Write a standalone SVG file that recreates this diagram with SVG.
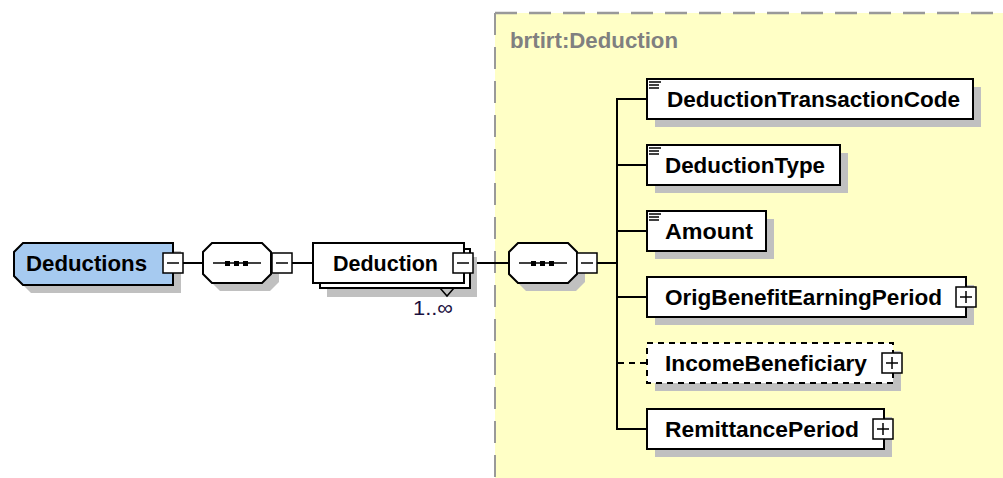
<svg xmlns="http://www.w3.org/2000/svg" width="1003" height="478" viewBox="0 0 1003 478">
<style>
.sh{fill:#C0C0C0}
.box{fill:#fff;stroke:#000;stroke-width:2}
.btn{fill:#fff;stroke:#000;stroke-width:1.5}
.sym{stroke:#000;stroke-width:1.5;fill:none}
.ln{stroke:#000;stroke-width:2;fill:none}
.t{font-family:"Liberation Sans",Arial,sans-serif;font-weight:bold;font-size:22px;fill:#000}
.g{font-family:"Liberation Sans",Arial,sans-serif;font-weight:bold;font-size:22px;fill:#808080}
.n{font-family:"Liberation Sans",Arial,sans-serif;font-size:21px;fill:#1a1040}
</style>
<defs>
<g id="minus"><rect class="btn" x="0" y="0" width="20" height="20"/><line class="sym" x1="4" y1="10" x2="16" y2="10"/></g>
<g id="plus"><rect class="btn" x="0" y="0" width="20" height="20"/><line class="sym" x1="4" y1="10" x2="16" y2="10"/><line class="sym" x1="10" y1="4" x2="10" y2="16"/></g>
<g id="seq">
<path class="sh" d="M17,8 H67 L76,17 V39 L67,48 H17 L8,39 V17 Z"/>
<path class="box" d="M9,0 H59 L68,9 V31 L59,40 H9 L0,31 V9 Z"/>
<line class="sym" x1="10" y1="20" x2="58" y2="20"/>
<rect x="22" y="18" width="5" height="5" fill="#000"/>
<rect x="31" y="18" width="5" height="5" fill="#000"/>
<rect x="40" y="18" width="5" height="5" fill="#000"/>
</g>
<g id="icon"><line class="sym" x1="2" y1="3" x2="14" y2="3"/><line class="sym" x1="2" y1="6" x2="12" y2="6"/><line class="sym" x1="2" y1="9" x2="12" y2="9"/></g>
</defs>
<rect width="1003" height="478" fill="#fff"/>
<g id="type-area">
<rect x="495" y="13" width="510" height="470" fill="#FFFFC6"/>
<path d="M495,13 H1003" stroke="#999" stroke-width="2.5" stroke-dasharray="22,12" fill="none"/>
<path d="M495,13 V478" stroke="#999" stroke-width="2" stroke-dasharray="22,12" fill="none"/>
<text class="g" x="510" y="48" textLength="168" lengthAdjust="spacingAndGlyphs">brtirt:Deduction</text>
</g>
<g id="connectors">
<line class="ln" x1="183" y1="263" x2="203" y2="263"/>
<line class="ln" x1="292" y1="263" x2="313" y2="263"/>
<line class="ln" x1="473" y1="263" x2="509" y2="263"/>
<line class="ln" x1="597" y1="263" x2="617" y2="263"/>
<line class="ln" x1="617" y1="98" x2="617" y2="430"/>
<line class="ln" x1="616" y1="99" x2="647" y2="99"/>
<line class="ln" x1="616" y1="165" x2="647" y2="165"/>
<line class="ln" x1="616" y1="231" x2="647" y2="231"/>
<line class="ln" x1="616" y1="297" x2="647" y2="297"/>
<line class="ln" x1="618" y1="363" x2="647" y2="363" stroke-dasharray="6,5"/>
<line class="ln" x1="616" y1="429" x2="647" y2="429"/>
</g>
<g id="Deductions">
<path class="sh" d="M31,251 H181 V293 H31 L22,284 V260 Z"/>
<path d="M23,243 H173 V285 H23 L14,276 V252 Z" fill="#A6CAF0" stroke="#000" stroke-width="2"/>
<text class="t" x="26" y="271" textLength="121" lengthAdjust="spacingAndGlyphs">Deductions</text>
<use href="#minus" x="163" y="253"/>
</g>
<g id="seq1"><use href="#seq" x="203" y="243"/><use href="#minus" x="272" y="253"/></g>
<g id="Deduction">
<rect class="sh" x="327" y="257" width="150" height="40"/>
<rect class="box" x="320" y="249" width="150" height="39"/>
<rect class="box" x="313" y="243" width="151" height="40"/>
<text class="t" x="333" y="271" textLength="105" lengthAdjust="spacingAndGlyphs">Deduction</text>
<use href="#minus" x="453" y="253"/>
<path class="sym" d="M440,288 L447,296 L454,288"/>
<text class="n" x="413" y="315" textLength="40" lengthAdjust="spacingAndGlyphs">1..∞</text>
</g>
<g id="seq2"><use href="#seq" x="509" y="243"/><use href="#minus" x="577" y="253"/></g>
<g id="DeductionTransactionCode">
<rect class="sh" x="655" y="87" width="326" height="40"/>
<rect class="box" x="647" y="79" width="326" height="40"/>
<use href="#icon" x="647" y="79"/>
<text class="t" x="667" y="107" textLength="293" lengthAdjust="spacingAndGlyphs">DeductionTransactionCode</text>
</g>
<g id="DeductionType">
<rect class="sh" x="655" y="153" width="193" height="40"/>
<rect class="box" x="647" y="145" width="193" height="40"/>
<use href="#icon" x="647" y="145"/>
<text class="t" x="665" y="173" textLength="160" lengthAdjust="spacingAndGlyphs">DeductionType</text>
</g>
<g id="Amount">
<rect class="sh" x="655" y="219" width="119" height="40"/>
<rect class="box" x="647" y="211" width="119" height="40"/>
<use href="#icon" x="647" y="211"/>
<text class="t" x="665" y="239" textLength="88" lengthAdjust="spacingAndGlyphs">Amount</text>
</g>
<g id="OrigBenefitEarningPeriod">
<rect class="sh" x="655" y="285" width="319" height="40"/>
<rect class="box" x="647" y="277" width="319" height="40"/>
<text class="t" x="665" y="305" textLength="277" lengthAdjust="spacingAndGlyphs">OrigBenefitEarningPeriod</text>
<use href="#plus" x="956" y="287"/>
</g>
<g id="IncomeBeneficiary">
<rect class="sh" x="655" y="351" width="246" height="40"/>
<rect x="647" y="343" width="246" height="40" fill="#fff" stroke="#000" stroke-width="2" stroke-dasharray="6,5"/>
<text class="t" x="665" y="371" textLength="202" lengthAdjust="spacingAndGlyphs">IncomeBeneficiary</text>
<use href="#plus" x="882" y="353"/>
</g>
<g id="RemittancePeriod">
<rect class="sh" x="655" y="417" width="237" height="40"/>
<rect class="box" x="647" y="409" width="237" height="40"/>
<text class="t" x="665" y="437" textLength="194" lengthAdjust="spacingAndGlyphs">RemittancePeriod</text>
<use href="#plus" x="873" y="419"/>
</g>
</svg>
